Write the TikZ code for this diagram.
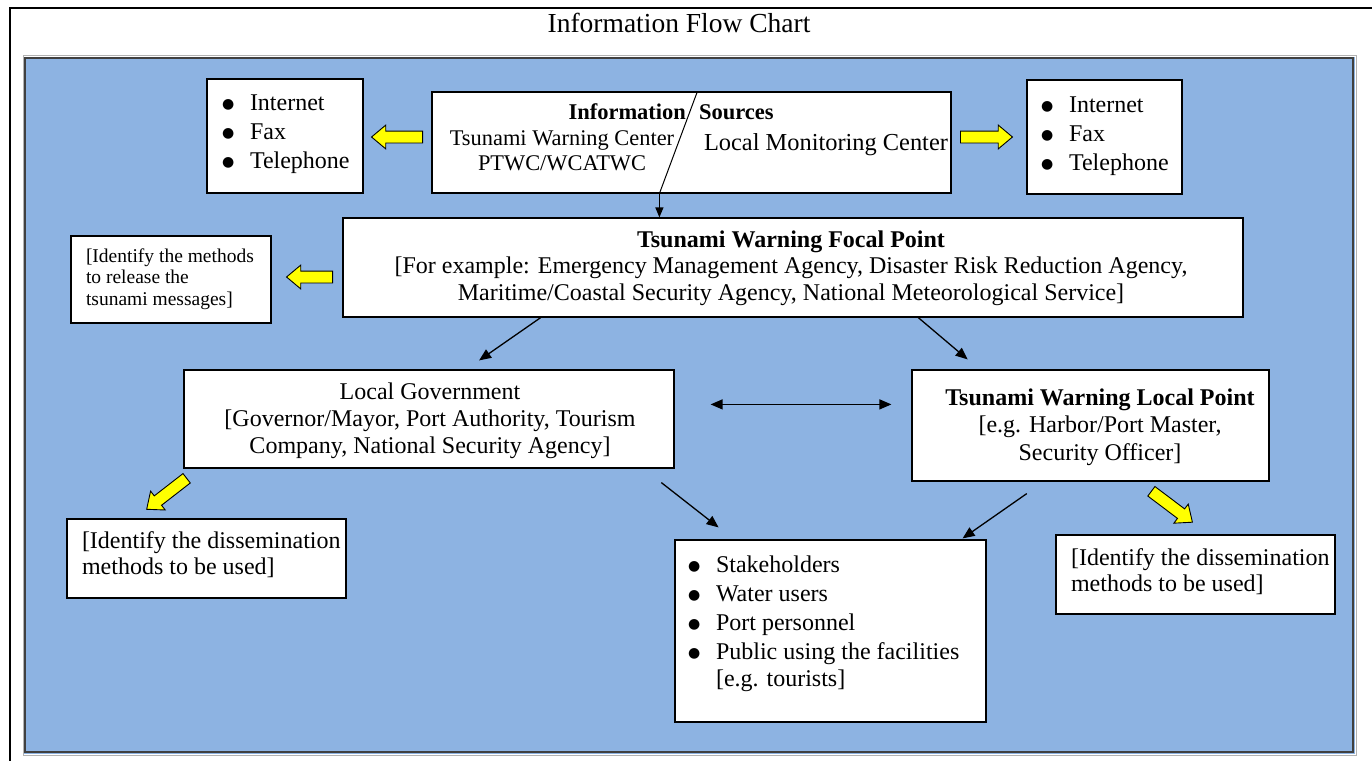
\documentclass[tikz,border=0pt]{standalone}
\usepackage{fontspec}
\setmainfont{Liberation Serif}
\newfontfamily\dejavu{DejaVu Sans}
\usetikzlibrary{arrows.meta,shapes.arrows,calc}
\definecolor{bgblue}{HTML}{8DB3E2}
\definecolor{yel}{HTML}{FFFF00}
\newcommand\fs[2]{\fontsize{#1}{#2}\selectfont}
\newcommand\bul{\makebox[28pt][l]{\raisebox{1.5pt}{\dejavu\fontsize{14}{14}\selectfont ●}}}
\newcommand\linesL[1]{\begin{tabular}[t]{@{}l@{}}#1\end{tabular}}
\newcommand\linesC[1]{\begin{tabular}[t]{@{}c@{}}#1\end{tabular}}
\tikzset{
  box/.style={draw=black, line width=1.2pt, fill=white, inner sep=0pt},
  txt/.style={inner sep=0pt, outer sep=0pt},
  arr/.style={draw=black, line width=1.3pt, -{Triangle[length=12pt,width=10pt]}},
  darr/.style={draw=black, line width=1.3pt, {Triangle[length=12pt,width=10pt]}-{Triangle[length=12pt,width=10pt]}},
  yarrow/.style={single arrow, draw=black, line width=0.9pt, fill=yel,
    inner xsep=0pt, inner ysep=5.5pt, text height=0pt, text depth=0pt,
    single arrow head extend=6pt, single arrow tip angle=80,
    minimum height=#1, anchor=tail}
}
\begin{document}
\begin{tikzpicture}[x=1pt,y=-1pt]
\useasboundingbox (0,0) rectangle (1372,760);
% outer frame
\draw[line width=2pt] (1380,8.5) -- (9.5,8.5) -- (9.5,770);
\node[txt, anchor=base, font=\fs{27.5}{30}] (title) at (679,32.5) {Information Flow Chart};
% blue panel
\fill[bgblue] (24,57) rectangle (1355,754);
\draw[gray!60, line width=1pt] (23,56) rectangle (1356,755);
\draw[black!75, line width=1.2pt] (25,58) rectangle (1353,752);

% boxes
\node[box, minimum width=156, minimum height=114] (inetL) at (285,136) {};
\node[box, minimum width=519, minimum height=101] (src) at (691.5,142.5) {};
\node[box, minimum width=155, minimum height=114] (inetR) at (1104.5,137) {};
\node[box, minimum width=900, minimum height=99] (focal) at (793,267.5) {};
\node[box, minimum width=200, minimum height=87] (small) at (171,279.5) {};
\node[box, minimum width=490, minimum height=98] (localgov) at (429,419) {};
\node[box, minimum width=357, minimum height=111] (twlocal) at (1090.5,425.5) {};
\node[box, minimum width=279, minimum height=79] (dissL) at (206.5,558.5) {};
\node[box, minimum width=311, minimum height=182] (stake) at (830.5,631) {};
\node[box, minimum width=279, minimum height=79] (dissR) at (1195.5,574.5) {};

% texts
\node[txt, anchor=base west, font=\fs{24}{29}] (inetLt) at (222,110) {\linesL{\bul Internet\\\bul Fax\\\bul Telephone}};
\node[txt, anchor=base west, font=\fs{24}{29}] (inetRt) at (1041,112) {\linesL{\bul Internet\\\bul Fax\\\bul Telephone}};
\node[txt, anchor=base east, font=\bfseries\fs{22.5}{26}] (infoT) at (686,119) {Information};
\node[txt, anchor=base west, font=\bfseries\fs{22.5}{26}] (srcT) at (699,119) {Sources};
\node[txt, anchor=base, font=\fs{22.4}{24.5}] (twcT) at (562,145.5) {\linesC{Tsunami Warning Center\\PTWC/WCATWC}};
\node[txt, anchor=base west, font=\fs{24.4}{28}] (lmcT) at (704,150.5) {Local Monitoring Center};
\node[txt, anchor=base, font=\fs{24}{26.5}] (focalT) at (791,247) {\linesC{\textbf{Tsunami Warning Focal Point}\\{[}For example: Emergency Management Agency, Disaster Risk Reduction Agency,\\Maritime/Coastal Security Agency, National Meteorological Service]}};
\node[txt, anchor=base west, font=\fs{19.5}{21.5}] (smallT) at (86,262) {\linesL{[Identify the methods\\to release the\\tsunami messages]}};
\node[txt, anchor=base, font=\fs{24}{27}] (lgT) at (430,399) {\linesC{Local Government\\{[}Governor/Mayor, Port Authority, Tourism\\Company, National Security Agency]}};
\node[txt, anchor=base, font=\fs{24}{27.5}] (twlT) at (1100,405) {\linesC{\textbf{Tsunami Warning Local Point}\\{[}e.g. Harbor/Port Master,\\Security Officer]}};
\node[txt, anchor=base west, font=\fs{24}{26}] (dissLt) at (82,548) {\linesL{[Identify the dissemination\\methods to be used]}};
\node[txt, anchor=base west, font=\fs{24}{26}] (dissRt) at (1071,565) {\linesL{[Identify the dissemination\\methods to be used]}};
\node[txt, anchor=base west, font=\fs{24}{29}] (stakeT) at (688,572) {\linesL{\bul Stakeholders\\\bul Water users\\\bul Port personnel\\\bul Public using the facilities\\[-2pt]\hspace*{28pt}{[}e.g. tourists]}};

% slash in sources box
\coordinate (slTop) at ($(src.north west)+(266,0)$);
\coordinate (slBot) at ($(src.south west)+(228,0)$);
\draw[line width=1pt] (slTop) -- (slBot);

% connectors
\draw[draw=black, line width=1.2pt, -{Triangle[length=10pt,width=8pt]}] (slBot) -- (slBot |- focal.north);
\draw[arr] ($(focal.south west)!0.22!(focal.south east)$) -- ($(localgov.north west)!0.602!(localgov.north east)+(0,-9)$);
\draw[arr] ($(focal.south west)!0.639!(focal.south east)$) -- ($(twlocal.north west)!0.157!(twlocal.north east)+(0,-10)$);
\draw[darr] ($(localgov.north east)+(36,35)$) -- ($(twlocal.north west)+(-20,35)$);
\draw[arr] ($(localgov.south west)!0.973!(localgov.south east)+(0,14)$) -- ($(stake.north west)!0.1415!(stake.north east)+(0,-12)$);
\draw[arr] ($(twlocal.south west)!0.322!(twlocal.south east)+(0,12)$) -- ($(stake.north west)!0.923!(stake.north east)+(0,-1)$);

% yellow block arrows
\node[yarrow=51, rotate=180] (yaL1) at (423,137) {};
\node[yarrow=52] (yaR1) at (960,137) {};
\node[yarrow=46, rotate=180] (yaL2) at (333,277) {};
\node[yarrow=50.6, rotate=217.8] (yaLG) at (187,478) {};
\node[yarrow=51.4, rotate=-37] (yaTL) at (1151,491) {};
\end{tikzpicture}
\end{document}
